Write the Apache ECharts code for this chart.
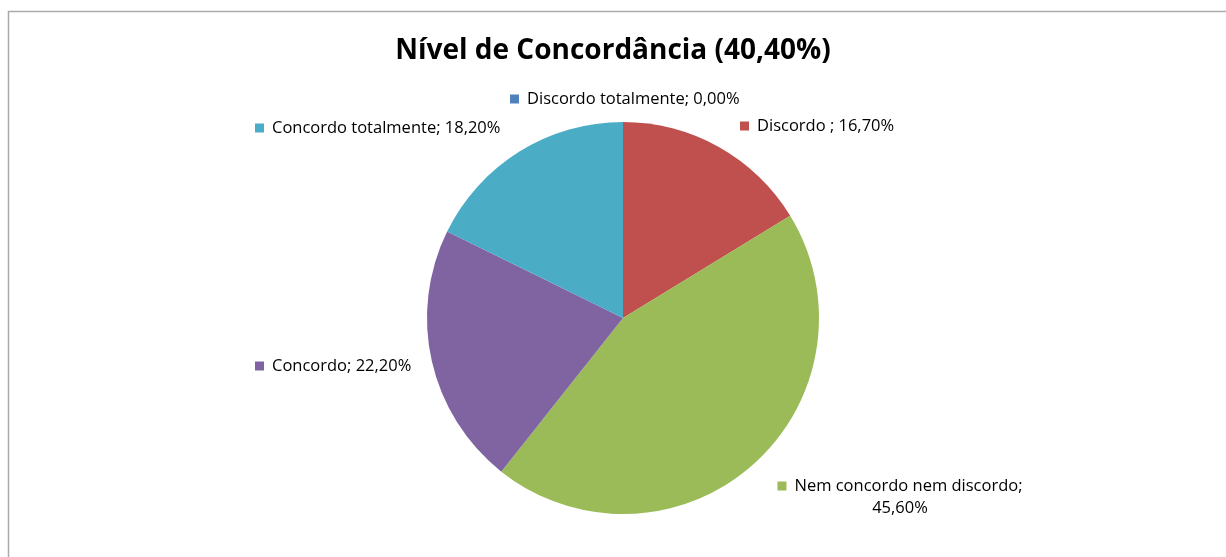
<!DOCTYPE html>
<html>
<head>
<meta charset="utf-8">
<script src="https://cdn.jsdelivr.net/npm/echarts@6/dist/echarts.min.js"></script>
<style>
  html, body { margin: 0; padding: 0; background: #fff; }
  #chart { width: 1226px; height: 557px; }
</style>
</head>
<body>
<div id="chart"></div>
<script>
const categories = ['Discordo totalmente', 'Discordo ', 'Nem concordo nem discordo', 'Concordo', 'Concordo totalmente'];
const values = [0.0, 16.7, 45.6, 22.2, 18.2];
const valueLabels = ['0,00%', '16,70%', '45,60%', '22,20%', '18,20%'];
const colors = ['#4F81BD', '#C0504D', '#9BBB59', '#8064A2', '#4BACC6'];

// label anchors (left edge / centre) for each slice, like the original layout
const labelPos = [
  { x: 510, y: 99, align: 'left' },
  { x: 740, y: 126, align: 'left' },
  { x: 900, y: 497, align: 'center' },
  { x: 255, y: 366, align: 'left' },
  { x: 255, y: 128, align: 'left' }
];

let chart = echarts.init(document.getElementById('chart'));

let data = categories.map((name, i) => ({
  name: name,
  value: values[i],
  itemStyle: { color: colors[i] },
  label: {
    rich: {
      m: { width: 9, height: 9, backgroundColor: colors[i] },
      s: { width: 8 }
    }
  }
}));

let option = {
  animation: false,
  title: {
    text: 'Nível de Concordância (40,40%)',
    left: 'center',
    top: 32,
    textStyle: {
      fontFamily: 'Open Sans',
      fontSize: 28,
      fontWeight: 'bold',
      color: '#000'
    }
  },
  graphic: [{
    type: 'rect',
    shape: { x: 8.5, y: 11.5, width: 1300, height: 600 },
    style: { fill: 'none', stroke: '#aaaaaa', lineWidth: 1.5 },
    silent: true
  }],
  series: [{
    type: 'pie',
    center: [623, 318],
    radius: 196,
    startAngle: 90,
    clockwise: true,
    avoidLabelOverlap: false,
    itemStyle: { borderWidth: 0 },
    label: {
      show: true,
      position: 'outside',
      fontFamily: 'Open Sans',
      fontSize: 16.5,
      color: '#000',
      lineHeight: 22,
      formatter: function (p) {
        let name = p.name;
        if (p.dataIndex === 2) {
          return '{m|}{s|}' + name + ';\n' + valueLabels[p.dataIndex];
        }
        return '{m|}{s|}' + name + '; ' + valueLabels[p.dataIndex];
      }
    },
    labelLine: { show: false },
    labelLayout: function (params) {
      let p = labelPos[params.dataIndex];
      return { x: p.x, y: p.y, align: p.align, verticalAlign: 'middle', hideOverlap: false };
    },
    data: data
  }]
};

chart.setOption(option);
</script>
</body>
</html>
